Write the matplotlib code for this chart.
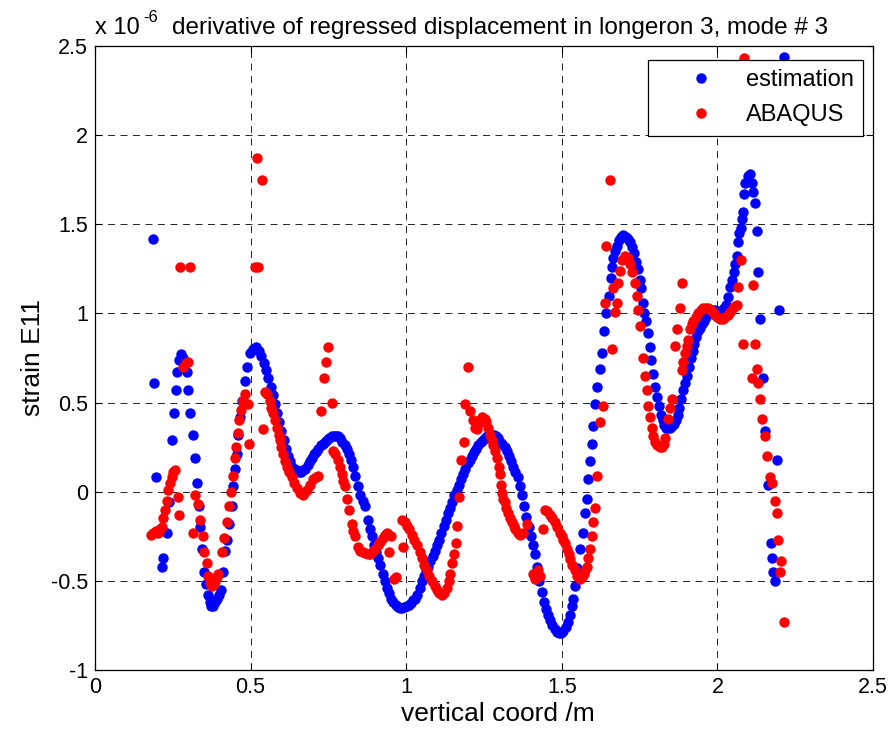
import numpy as np
import matplotlib.pyplot as plt

# estimation (blue)
est_x = [0.185, 0.191, 0.196, 0.216, 0.220, 0.231, 0.238, 0.247, 0.254, 0.260,
         0.264, 0.270, 0.276, 0.283, 0.290, 0.296, 0.300, 0.305, 0.315, 0.321,
         0.328, 0.333, 0.337, 0.344, 0.350, 0.356, 0.362, 0.368, 0.374, 0.380,
         0.386, 0.392, 0.398, 0.404, 0.410, 0.418, 0.424, 0.430, 0.440, 0.444,
         0.450, 0.456, 0.460, 0.466, 0.472, 0.482, 0.488, 0.498, 0.507, 0.517,
         0.527, 0.535, 0.543, 0.550, 0.557, 0.564, 0.571, 0.578, 0.585, 0.592,
         0.599, 0.606, 0.613, 0.620, 0.627, 0.634, 0.641, 0.648, 0.655, 0.662,
         0.669, 0.676, 0.683, 0.690, 0.697, 0.704, 0.711, 0.718, 0.725, 0.732,
         0.739, 0.746, 0.753, 0.760, 0.767, 0.774, 0.781, 0.788, 0.795, 0.802,
         0.809, 0.816, 0.823, 0.830, 0.837, 0.846, 0.853, 0.860, 0.868, 0.877,
         0.884, 0.890, 0.897, 0.904, 0.910, 0.917, 0.924, 0.931, 0.938, 0.945,
         0.952, 0.959, 0.966, 0.973, 0.980, 0.987, 0.994, 1.001, 1.008, 1.015,
         1.022, 1.029, 1.036, 1.043, 1.050, 1.057, 1.064, 1.071, 1.078, 1.085,
         1.092, 1.099, 1.106, 1.113, 1.120, 1.127, 1.134, 1.141, 1.148, 1.155,
         1.162, 1.169, 1.176, 1.183, 1.190, 1.197, 1.204, 1.211, 1.218, 1.225,
         1.232, 1.239, 1.246, 1.253, 1.260, 1.267, 1.274, 1.281, 1.288, 1.295,
         1.302, 1.309, 1.316, 1.323, 1.330, 1.337, 1.344, 1.351, 1.358, 1.365,
         1.372, 1.379, 1.386, 1.393, 1.400, 1.407, 1.414, 1.421, 1.428, 1.435,
         1.442, 1.449, 1.456, 1.463, 1.470, 1.477, 1.484, 1.491, 1.498, 1.505,
         1.512, 1.519, 1.526, 1.532, 1.537, 1.542, 1.550, 1.558, 1.568, 1.575,
         1.580, 1.585, 1.590, 1.596, 1.601, 1.607, 1.613, 1.622, 1.630, 1.636,
         1.642, 1.652, 1.658, 1.661, 1.665, 1.671, 1.677, 1.684, 1.691, 1.698,
         1.705, 1.712, 1.719, 1.726, 1.733, 1.740, 1.745, 1.750, 1.755, 1.760,
         1.764, 1.770, 1.776, 1.782, 1.788, 1.794, 1.800, 1.806, 1.812, 1.818,
         1.824, 1.830, 1.836, 1.842, 1.848, 1.854, 1.860, 1.866, 1.872, 1.878,
         1.884, 1.890, 1.896, 1.902, 1.908, 1.914, 1.920, 1.926, 1.932, 1.938,
         1.944, 1.950, 1.956, 1.962, 1.968, 1.974, 1.980, 1.986, 1.992, 1.998,
         2.004, 2.010, 2.016, 2.022, 2.028, 2.034, 2.040, 2.046, 2.052, 2.058,
         2.063, 2.067, 2.071, 2.075, 2.079, 2.082, 2.086, 2.090, 2.097, 2.105,
         2.112, 2.116, 2.120, 2.127, 2.132, 2.137, 2.147, 2.153, 2.161, 2.171,
         2.177, 2.180, 2.184, 2.190, 2.198, 2.213]
est_y = [1.42, 0.61, 0.08, -0.42, -0.37, -0.23, -0.06, 0.29, 0.44, 0.57,
         0.67, 0.74, 0.77, 0.75, 0.72, 0.67, 0.57, 0.44, 0.32, 0.19,
         0.05, -0.08, -0.20, -0.32, -0.45, -0.52, -0.58, -0.62, -0.64, -0.64,
         -0.62, -0.60, -0.58, -0.55, -0.45, -0.33, -0.27, -0.18, -0.08, 0.03,
         0.13, 0.21, 0.32, 0.42, 0.51, 0.62, 0.70, 0.78, 0.80, 0.81,
         0.79, 0.76, 0.72, 0.68, 0.64, 0.59, 0.54, 0.49, 0.44, 0.39,
         0.34, 0.29, 0.24, 0.20, 0.17, 0.14, 0.13, 0.12, 0.11, 0.11,
         0.12, 0.13, 0.15, 0.17, 0.19, 0.21, 0.22, 0.24, 0.26, 0.27,
         0.28, 0.29, 0.30, 0.31, 0.315, 0.315, 0.31, 0.30, 0.28, 0.26,
         0.24, 0.21, 0.18, 0.14, 0.09, 0.03, -0.02, -0.05, -0.08, -0.16,
         -0.21, -0.25, -0.30, -0.34, -0.37, -0.41, -0.46, -0.50, -0.54, -0.57,
         -0.60, -0.62, -0.635, -0.645, -0.65, -0.65, -0.645, -0.64, -0.635, -0.625,
         -0.61, -0.60, -0.58, -0.54, -0.50, -0.47, -0.44, -0.42, -0.39, -0.36,
         -0.33, -0.30, -0.27, -0.23, -0.19, -0.16, -0.12, -0.09, -0.06, -0.02,
         0.01, 0.04, 0.07, 0.10, 0.13, 0.16, 0.18, 0.20, 0.22, 0.24,
         0.26, 0.28, 0.29, 0.30, 0.31, 0.32, 0.32, 0.32, 0.31, 0.30,
         0.28, 0.27, 0.25, 0.23, 0.20, 0.17, 0.14, 0.11, 0.08, 0.03,
         -0.02, -0.08, -0.14, -0.20, -0.25, -0.30, -0.35, -0.42, -0.50, -0.56,
         -0.62, -0.66, -0.69, -0.72, -0.75, -0.77, -0.785, -0.79, -0.79, -0.78,
         -0.76, -0.73, -0.69, -0.64, -0.60, -0.53, -0.43, -0.32, -0.23, -0.12,
         -0.04, 0.07, 0.17, 0.27, 0.37, 0.49, 0.59, 0.69, 0.78, 0.90,
         1.00, 1.10, 1.20, 1.26, 1.31, 1.35, 1.38, 1.41, 1.43, 1.44,
         1.43, 1.42, 1.40, 1.37, 1.34, 1.29, 1.25, 1.19, 1.14, 1.06,
         1.00, 0.96, 0.89, 0.81, 0.74, 0.66, 0.59, 0.53, 0.48, 0.43,
         0.40, 0.375, 0.36, 0.355, 0.36, 0.37, 0.38, 0.40, 0.43, 0.47,
         0.52, 0.57, 0.61, 0.65, 0.70, 0.75, 0.79, 0.83, 0.87, 0.90,
         0.92, 0.94, 0.96, 0.98, 0.99, 1.00, 1.01, 1.02, 1.02, 1.01,
         1.01, 1.01, 1.02, 1.03, 1.05, 1.09, 1.15, 1.19, 1.23, 1.28,
         1.32, 1.40, 1.45, 1.48, 1.53, 1.57, 1.67, 1.73, 1.77, 1.78,
         1.73, 1.68, 1.62, 1.46, 1.23, 0.97, 0.64, 0.34, 0.04, -0.29,
         -0.37, -0.45, -0.50, 0.18, 1.02, 2.44]

# ABAQUS (red)
abq_x = [0.180, 0.187, 0.195, 0.203, 0.209, 0.215, 0.219, 0.225, 0.231, 0.235,
         0.241, 0.247, 0.251, 0.257, 0.267, 0.270, 0.273, 0.305, 0.283, 0.292,
         0.299, 0.315, 0.321, 0.331, 0.337, 0.347, 0.350, 0.360, 0.364, 0.370,
         0.375, 0.381, 0.386, 0.391, 0.396, 0.408, 0.413, 0.425, 0.430, 0.436,
         0.444, 0.450, 0.453, 0.460, 0.463, 0.468, 0.475, 0.482, 0.492, 0.495,
         0.514, 0.524, 0.519, 0.537, 0.540, 0.546, 0.553, 0.562, 0.567, 0.572,
         0.578, 0.585, 0.590, 0.594, 0.599, 0.604, 0.610, 0.617, 0.625, 0.633,
         0.641, 0.649, 0.659, 0.668, 0.675, 0.681, 0.690, 0.700, 0.709, 0.717,
         0.725, 0.736, 0.742, 0.750, 0.760, 0.765, 0.772, 0.781, 0.787, 0.793,
         0.798, 0.803, 0.810, 0.816, 0.825, 0.830, 0.835, 0.845, 0.853, 0.861,
         0.869, 0.877, 0.884, 0.892, 0.900, 0.908, 0.916, 0.924, 0.932, 0.938,
         0.945, 0.951, 0.962, 0.968, 0.986, 0.990, 0.995, 1.002, 1.010, 1.018,
         1.026, 1.035, 1.043, 1.050, 1.058, 1.066, 1.074, 1.083, 1.091, 1.099,
         1.107, 1.115, 1.123, 1.131, 1.137, 1.141, 1.147, 1.154, 1.160, 1.163,
         1.170, 1.176, 1.186, 1.189, 1.200, 1.205, 1.215, 1.222, 1.227, 1.232,
         1.237, 1.245, 1.253, 1.258, 1.263, 1.270, 1.276, 1.280, 1.285, 1.292,
         1.297, 1.301, 1.305, 1.308, 1.312, 1.317, 1.322, 1.327, 1.334, 1.340,
         1.345, 1.350, 1.358, 1.366, 1.375, 1.388, 1.407, 1.414, 1.424, 1.430,
         1.440, 1.446, 1.454, 1.462, 1.470, 1.478, 1.486, 1.494, 1.500, 1.504,
         1.510, 1.517, 1.522, 1.526, 1.534, 1.542, 1.550, 1.558, 1.564, 1.571,
         1.576, 1.581, 1.585, 1.590, 1.597, 1.600, 1.607, 1.613, 1.623, 1.632,
         1.639, 1.642, 1.655, 1.661, 1.665, 1.671, 1.677, 1.681, 1.687, 1.694,
         1.703, 1.713, 1.719, 1.726, 1.735, 1.741, 1.745, 1.751, 1.761, 1.767,
         1.774, 1.777, 1.783, 1.790, 1.794, 1.800, 1.806, 1.814, 1.822, 1.828,
         1.832, 1.842, 1.848, 1.854, 1.864, 1.870, 1.880, 1.886, 1.886, 1.891,
         1.896, 1.901, 1.906, 1.912, 1.917, 1.922, 1.930, 1.938, 1.946, 1.954,
         1.962, 1.970, 1.978, 1.986, 1.993, 2.000, 2.009, 2.018, 2.026, 2.034,
         2.042, 2.050, 2.057, 2.063, 2.067, 2.075, 2.082, 2.085, 2.111, 2.115,
         2.120, 2.127, 2.131, 2.137, 2.143, 2.153, 2.160, 2.169, 2.174, 2.186,
         2.193, 2.196, 2.204, 2.200, 2.213]
abq_y = [-0.24, -0.23, -0.22, -0.23, -0.21, -0.20, -0.15, -0.10, -0.05, 0.01,
         0.05, 0.08, 0.11, 0.12, -0.03, -0.13, 1.26, 1.26, 0.70, 0.72,
         0.73, -0.23, -0.02, -0.07, -0.16, -0.25, -0.34, -0.40, -0.47, -0.51,
         -0.53, -0.52, -0.50, -0.48, -0.46, -0.34, -0.26, -0.17, -0.08, 0.00,
         0.09, 0.19, 0.25, 0.33, 0.40, 0.46, 0.51, 0.55, 0.49, 0.27,
         1.26, 1.26, 1.87, 1.75, 0.35, 0.56, 0.55, 0.51, 0.47, 0.44,
         0.40, 0.36, 0.32, 0.29, 0.25, 0.21, 0.17, 0.14, 0.11, 0.08,
         0.05, 0.02, -0.01, -0.02, 0.00, 0.01, 0.04, 0.07, 0.08, 0.09,
         0.45, 0.64, 0.73, 0.81, 0.50, 0.23, 0.21, 0.18, 0.14, 0.10,
         0.06, 0.03, -0.04, -0.10, -0.18, -0.22, -0.25, -0.31, -0.33, -0.34,
         -0.345, -0.35, -0.35, -0.33, -0.32, -0.30, -0.28, -0.26, -0.24, -0.23,
         -0.34, -0.25, -0.49, -0.48, -0.16, -0.31, -0.17, -0.19, -0.21, -0.24,
         -0.27, -0.30, -0.34, -0.37, -0.41, -0.44, -0.47, -0.50, -0.53, -0.55,
         -0.57, -0.58, -0.57, -0.54, -0.50, -0.46, -0.40, -0.35, -0.29, -0.19,
         -0.03, 0.18, 0.28, 0.49, 0.70, 0.45, 0.40, 0.36, 0.35, 0.38,
         0.40, 0.42, 0.41, 0.39, 0.36, 0.32, 0.29, 0.26, 0.23, 0.19,
         0.14, 0.10, 0.04, -0.01, -0.04, -0.06, -0.09, -0.12, -0.15, -0.17,
         -0.19, -0.21, -0.23, -0.24, -0.23, -0.18, -0.46, -0.49, -0.44, -0.47,
         -0.21, -0.10, -0.11, -0.13, -0.15, -0.17, -0.20, -0.23, -0.25, -0.27,
         -0.29, -0.32, -0.35, -0.38, -0.41, -0.44, -0.47, -0.49, -0.48, -0.46,
         -0.44, -0.42, -0.37, -0.32, -0.25, -0.17, -0.09, 0.09, 0.39, 0.48,
         1.06, 1.38, 1.75, 0.80, 1.14, 1.01, 1.06, 1.17, 1.24, 1.30,
         1.32, 1.31, 1.28, 1.23, 1.17, 1.10, 1.02, 0.93, 0.75, 0.65,
         0.57, 0.48, 0.42, 0.36, 0.31, 0.28, 0.26, 0.25, 0.25, 0.27,
         0.30, 0.41, 0.47, 0.52, 0.82, 0.91, 1.03, 1.17, 0.68, 0.73,
         0.78, 0.82, 0.85, 0.91, 0.94, 0.96, 0.98, 1.00, 1.02, 1.03,
         1.03, 1.03, 1.02, 1.01, 0.99, 0.98, 0.97, 0.97, 0.98, 0.99,
         1.01, 1.03, 1.04, 1.05, 1.15, 1.30, 0.83, 2.43, 0.64, 1.16,
         0.83, 0.69, 0.61, 0.52, 0.41, 0.31, 0.20, 0.08, 0.05, -0.05,
         -0.12, -0.27, -0.39, -0.45, -0.73]

x_ticks = [0, 0.5, 1, 1.5, 2, 2.5]
x_labels = ['0', '0.5', '1', '1.5', '2', '2.5']
y_ticks = [-1, -0.5, 0, 0.5, 1, 1.5, 2, 2.5]
y_labels = ['-1', '-0.5', '0', '0.5', '1', '1.5', '2', '2.5']

plt.rcParams['font.family'] = ['Liberation Sans', 'DejaVu Sans']
plt.rcParams['font.size'] = 15
plt.rcParams['lines.scale_dashes'] = False

fig = plt.figure(figsize=(8.95, 7.36), dpi=100)
ax = fig.add_axes([95/895, 1-670/736, 778/895, 624/736])

ax.plot(est_x, est_y, 'o', color='#0000ff', ms=7.5, mec='none', label='estimation')
ax.plot(abq_x, abq_y, 'o', color='#ff0000', ms=7.5, mec='none', label='ABAQUS')

ax.set_xlim(0, 2.5)
ax.set_ylim(-1, 2.5)
ax.set_xticks(x_ticks)
ax.set_xticklabels(x_labels)
ax.set_yticks(y_ticks)
ax.set_yticklabels(y_labels)
ax.tick_params(direction='in', top=True, right=True, length=5, width=0.8, pad=5,
               labelsize=15.5)
ax.grid(True, color='black', linestyle=(0, (5, 4)), linewidth=0.6)
ax.set_axisbelow(True)
for s in ax.spines.values():
    s.set_linewidth(0.9)

ax.set_xlabel('vertical coord /m', fontsize=19)
ax.xaxis.set_label_coords(0.518, -0.052)
ax.xaxis.label.set_va('top')
ax.set_ylabel('strain E11', fontsize=19, labelpad=4)

leg = ax.legend(loc='upper right', bbox_to_anchor=(0.987, 0.978), borderaxespad=0,
                fancybox=False, edgecolor='black', framealpha=1, numpoints=1,
                handlelength=3.7, handletextpad=0.05, borderpad=0.4, labelspacing=0.55,
                fontsize=17)
leg.get_frame().set_linewidth(0.9)

fig.text(95/895, 1-34/736, 'x 10', fontsize=17, ha='left', va='baseline')
fig.text(143/895, 1-22/736, '-6', fontsize=12, ha='left', va='baseline')
fig.text(172/895, 1-34/736, 'derivative of regressed displacement in longeron 3, mode # 3',
         fontsize=17.5, ha='left', va='baseline')

fig.savefig('out.png', dpi=100)
